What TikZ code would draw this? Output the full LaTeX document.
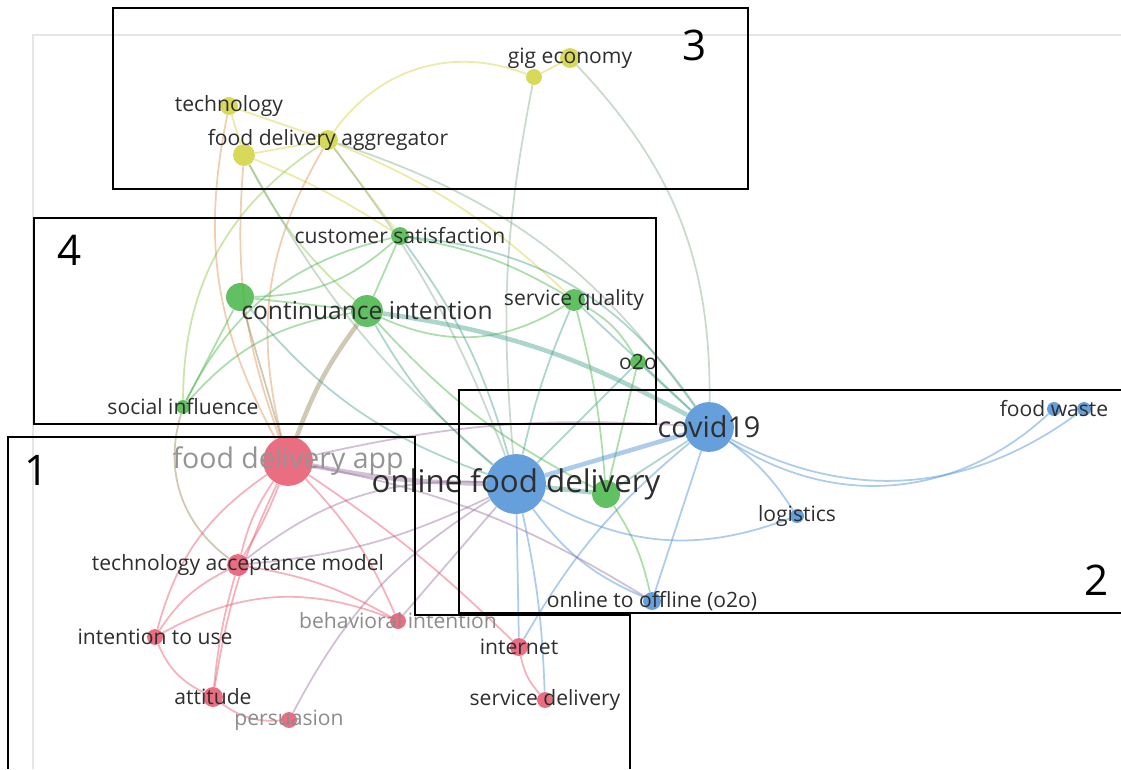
\documentclass[tikz,border=0pt]{standalone}
\usepackage{fontspec}
\setmainfont{Open Sans}
\usepackage{tikz}
\usetikzlibrary{backgrounds}
\definecolor{kwred}{HTML}{E8536B}
\definecolor{kwblue}{HTML}{4A8FD6}
\definecolor{kwgreen}{HTML}{45B545}
\definecolor{kwyellow}{HTML}{D2D23C}
\definecolor{lbltext}{HTML}{2E2E2E}
\tikzset{>=latex}

\begin{document}
\begin{tikzpicture}[x=0.02cm, y=-0.02cm,
kw/.style={circle, inner sep=0pt, minimum size=2*#1*0.5669pt, fill opacity=0.85},
red kw/.style={kw=#1, fill=kwred},
blue kw/.style={kw=#1, fill=kwblue},
green kw/.style={kw=#1, fill=kwgreen},
yellow kw/.style={kw=#1, fill=kwyellow},
lbl/.style={inner sep=0pt, text=lbltext, font=\fontsize{12}{14}\selectfont},
big lbl/.style={lbl, font=\fontsize{#1}{#1}\selectfont},
dim lbl/.style={lbl, text=black!45},
ln/.style={draw=#1, line width=1pt, draw opacity=0.45},
fat/.style={line width=2.6pt},
cluster/.style={draw=black, line width=1.1pt},
cnum/.style={inner sep=0pt, font=\fontsize{24}{24}\selectfont}]
\useasboundingbox (0,0) rectangle (1121,769);
% screenshot frame
\draw[black!10, line width=0.6pt] (33,769) -- (33,35) -- (1121,35);

% keywords
\node[yellow kw=9] (tech) at (229,106) {};
\node[yellow kw=10] (agg) at (328,140) {};
\node[yellow kw=11] (yel) at (244,155) {};
\node[yellow kw=10] (gig) at (570,58) {};
\node[yellow kw=8] (gigb) at (534,77) {};
\node[green kw=9] (cs) at (400,236) {};
\node[green kw=14] (grn) at (240,297) {};
\node[green kw=16] (ci) at (367,311) {};
\node[green kw=11] (sq) at (574,300) {};
\node[green kw=8] (oto) at (638,362) {};
\node[green kw=7] (si) at (183,407) {};
\node[red kw=25] (app) at (288,461) {};
\node[blue kw=30] (ofd) at (516,484) {};
\node[green kw=14] (grnb) at (606,494) {};
\node[blue kw=25] (cov) at (709,427) {};
\node[blue kw=7] (fw) at (1054,409) {};
\node[blue kw=7] (fwb) at (1084,409) {};
\node[blue kw=7] (log) at (797,516) {};
\node[blue kw=9] (oto2) at (652,601) {};
\node[red kw=11] (tam) at (238,565) {};
\node[red kw=8] (itu) at (155,637) {};
\node[red kw=8] (bi) at (398,621) {};
\node[red kw=9] (net) at (519,647) {};
\node[red kw=10] (att) at (213,697) {};
\node[red kw=8] (per) at (289,720) {};
\node[red kw=8] (sd) at (545,700) {};

% links
\begin{scope}[on background layer]
\path[ln=kwyellow]
(tech) edge (yel) edge (agg)
(yel) edge (agg) edge[bend left=5] (cs)
(agg) edge[bend left=38] (gigb) edge (cs) edge[bend left=10] (sq)
(gig) edge (gigb);
\path[ln=kwyellow!50!kwred]
(tech) edge[bend right=20] (app)
(yel) edge[bend right=12] (app)
(agg) edge[bend right=22] (app);
\path[ln=kwyellow!50!kwgreen]
(agg) edge[bend right=28] (si)
(yel) edge[bend right=10] (ci);
\path[ln=kwyellow!45!kwblue]
(gigb) edge[bend right=8] (ofd)
(gig) edge[bend left=22] (cov)
(agg) edge[bend left=18] (cov)
(yel) edge[bend right=10] (ofd)
(agg) edge[bend left=8] (ofd);
\path[ln=kwgreen]
(cs) edge (ci) edge[bend left=20] (grn) edge[bend left=10] (sq) edge[bend right=25] (si)
(ci) edge (grn) edge[bend right=28] (sq) edge[bend right=20] (si) edge[bend right=10] (grnb)
(sq) edge[bend left=15] (oto) edge[bend left=5] (grnb)
(oto) edge (grnb)
(grn) edge (si)
(grnb) edge[bend left=10] (oto2);
\path[ln=kwgreen!50!kwred]
(si) edge[bend right=35] (tam)
(ci) edge[fat, bend right=8] (app)
(grn) edge (app);
\path[ln=kwgreen!50!kwblue]
(ci) edge[bend right=10] (ofd) edge[fat, bend left=10] (cov)
(grn) edge[bend right=15] (ofd)
(cs) edge[bend left=10] (ofd) edge[bend left=25] (cov)
(sq) edge[bend right=5] (ofd) edge (cov)
(oto) edge (cov) edge (ofd)
(grnb) edge[fat] (ofd) edge (cov);
\path[ln=kwblue]
(ofd) edge[fat] (cov) edge[bend right=25] (log) edge[bend right=15] (oto2) edge (net) edge[bend left=5] (sd)
(cov) edge[bend right=38] (fw) edge[bend right=32] (fwb) edge[bend left=10] (log) edge (oto2) edge[bend right=10] (net);
\path[ln=kwred!50!kwblue]
(ofd) edge[bend right=20] (tam) edge[bend right=15] (per) edge (bi)
(app) edge[fat, bend right=5] (ofd) edge[bend left=8] (cov) edge[bend left=10] (oto2)
(tam) edge[bend right=10] (ofd);
\path[ln=kwred]
(app) edge[bend right=10] (tam) edge[bend left=5] (tam) edge[bend right=20] (itu) edge[bend right=8] (att) edge[bend left=10] (bi) edge[bend left=5] (net)
(tam) edge[bend right=15] (itu) edge[bend right=5] (att) edge[bend left=10] (bi)
(itu) edge[bend right=20] (att)
(att) edge[bend right=20] (per)
(net) edge[bend right=15] (sd)
(bi) edge[bend right=25] (itu);
\end{scope}

% labels
\node[lbl] (tech-l) at (tech) {technology};
\node[lbl] (agg-l) at (agg) {food delivery aggregator};
\node[lbl] (gig-l) at (gig) {gig economy};
\node[lbl] (cs-l) at (cs) {customer satisfaction};
\node[big lbl=14] (ci-l) at (ci) {continuance intention};
\node[lbl] (sq-l) at (sq) {service quality};
\node[lbl] (oto-l) at (oto) {o2o};
\node[lbl] (si-l) at (si) {social influence};
\node[big lbl=16.2, text=black!42] (app-l) at (app) {food delivery app};
\node[big lbl=17.8] (ofd-l) at (ofd) {online food delivery};
\node[big lbl=16.4] (cov-l) at (cov) {covid19};
\node[lbl] (fw-l) at (fw) {food waste};
\node[lbl] (log-l) at (log) {logistics};
\node[lbl] (oto2-l) at (oto2) {online to offline (o2o)};
\node[lbl] (tam-l) at (tam) {technology acceptance model};
\node[lbl] (itu-l) at (itu) {intention to use};
\node[dim lbl] (bi-l) at (bi) {behavioral intention};
\node[lbl] (net-l) at (net) {internet};
\node[lbl] (att-l) at (att) {attitude};
\node[dim lbl] (per-l) at (per) {persuasion};
\node[lbl] (sd-l) at (sd) {service delivery};

% clusters
\draw[cluster] (113,8) rectangle (748,189);
\draw[cluster] (34,218) rectangle (656,424);
\draw[cluster] (1121,390) -- (459,390) -- (459,613) -- (1121,613);
\draw[cluster] (8,769) -- (8,437) -- (415,437) -- (415,615) -- (630,615) -- (630,769);
\node[cnum] (c1) at (37,470) {1};
\node[cnum] (c2) at (1097,580) {2};
\node[cnum] (c3) at (695,45) {3};
\node[cnum] (c4) at (70,250) {4};
\end{tikzpicture}
\end{document}
